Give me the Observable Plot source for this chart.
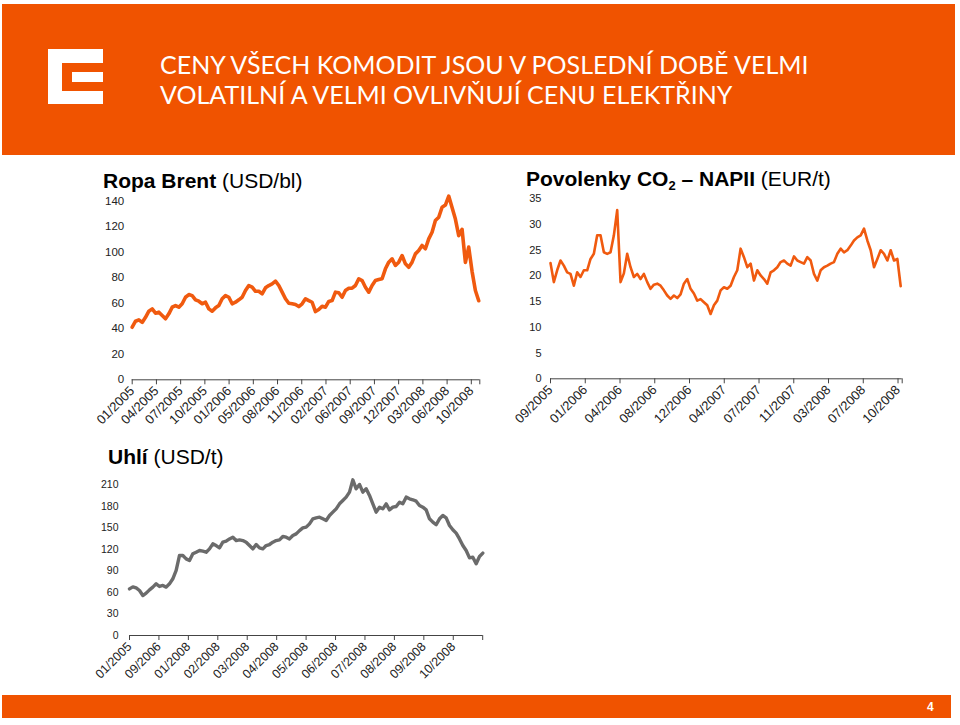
<!DOCTYPE html>
<html><head><meta charset="utf-8">
<script src="https://cdn.jsdelivr.net/npm/d3@7"></script>
<script src="https://cdn.jsdelivr.net/npm/@observablehq/plot@0.6"></script>
<style>
body{margin:0;background:#fff;}
#slide{position:relative;width:960px;height:725px;overflow:hidden;font-family:"Liberation Sans",Arial,sans-serif;background:#fff;}
.hdr{position:absolute;left:2px;top:4px;width:953px;height:151px;background:#f05300;}
.w{position:absolute;background:#fff;}
.title{position:absolute;left:160px;top:49px;color:#fff;font-family:Lato,"Open Sans",sans-serif;font-size:25px;line-height:30px;white-space:nowrap;}
.ct{position:absolute;font-size:21px;line-height:21px;color:#000;white-space:nowrap;}
.ct b{font-weight:bold;}
.ct sub{font-size:13px;vertical-align:-4px;line-height:0;}
.ftr{position:absolute;left:2px;top:695px;width:949px;height:23px;background:#f05300;}
.pg{position:absolute;left:927px;top:700px;color:#fff;font-size:12px;font-weight:bold;}
.plot{position:absolute;}
</style></head>
<body>
<div id="slide">
  <div class="hdr"></div>
  <div class="w" style="left:48px;top:49px;width:55px;height:14px"></div>
  <div class="w" style="left:48px;top:49px;width:14px;height:55px"></div>
  <div class="w" style="left:48px;top:91px;width:55px;height:13px"></div>
  <div class="w" style="left:72px;top:72px;width:31px;height:10px"></div>
  <div class="title">CENY VŠECH KOMODIT JSOU V POSLEDNÍ DOBĚ VELMI<br>VOLATILNÍ A VELMI OVLIVŇUJÍ CENU ELEKTŘINY</div>
  <div class="ct" style="left:103px;top:170px"><b>Ropa Brent</b> (USD/bl)</div>
  <div class="ct" style="left:526px;top:168px"><b>Povolenky CO<sub>2</sub> – NAPII</b> (EUR/t)</div>
  <div class="ct" style="left:108px;top:446px"><b>Uhlí</b> (USD/t)</div>
  <div id="brent" class="plot" style="left:80px;top:190px"></div>
  <div id="co2" class="plot" style="left:495px;top:188px"></div>
  <div id="coal" class="plot" style="left:75px;top:475px"></div>
  <div class="ftr"></div>
  <div class="pg">4</div>
</div>
<script>
// Ropa Brent (USD/bl) – values read at equal steps along the category axis
const brentLabels = ["01/2005","04/2005","07/2005","10/2005","01/2006","05/2006","08/2006","11/2006","02/2007","06/2007","09/2007","12/2007","03/2008","06/2008","10/2008"];
const brentValues = [41.2,45.9,47,45,49,53.8,55.6,52.2,53,50.4,47.8,51.7,56.9,58.2,56.9,59.6,64.7,66.8,66,62.7,61.6,59.6,60.8,55.6,53.8,56.4,58.2,63.5,66,64.7,59.6,60.8,62.7,64.7,70,73.9,72.6,69.4,69.4,67.4,72.1,73.9,75.2,77.3,73.9,68.7,63.5,60,59.6,59,57.4,59.6,63.5,
  62.1,60.8,53.5,55.1,57.7,56.9,61.4,62.1,68.7,68.2,64.7,70,71.8,71.8,73.9,79.2,77.8,72.6,68.7,73.9,77.8,78.6,79.2,87,92.2,94.8,89.6,92.2,97.4,90.9,88.2,92.2,98.7,101.3,105.3,102.7,110.5,115.7,124.8,127.4,135.3,137,144,135,126,113,118,92,104,85,70,62];
const brentPerTick = 7.27, brentEnd = 14.35, brentTicksY = [0,20,40,60,80,100,120,140];

// Povolenky CO2 – NAPII (EUR/t)
const co2Labels = ["09/2005","01/2006","04/2006","08/2006","12/2006","04/2007","07/2007","11/2007","03/2008","07/2008","10/2008"];
const co2Values = [22.5,18.8,21.1,23,22,20.7,20.4,18.1,20.7,19.8,21.1,21.1,23.3,24.3,27.9,27.9,24.6,24.3,24.6,27.9,32.8,18.8,20.5,24.3,21.7,19.8,20.4,19.4,20.4,18.8,17.5,18.3,18.5,18.1,17.2,16.2,15.55,16.2,15.7,16.4,18.5,19.4,17.5,16.6,15.2,15.5,14.9,14.3,12.6,14.3,15.2,17.2,17.8,
  17.5,18.1,19.8,21.1,25.3,23.65,21.7,22.4,19.1,21.1,20.1,19.4,18.5,20.7,21.1,21.7,22.7,23,22.4,22,23.8,23,22.7,22.4,23.65,23,20.4,19.1,21.1,21.7,22,22.4,22.7,24.3,25.3,24.6,25,25.9,26.9,27.5,27.9,29.2,26.9,25,21.7,23.3,25,24.3,23,25,23,23.3,18];
const co2PerTick = 10.42, co2End = 10.12, co2TicksY = [0,5,10,15,20,25,30,35];

// Uhlí (USD/t)
const coalLabels = ["01/2005","09/2006","01/2008","02/2008","03/2008","04/2008","05/2008","06/2008","07/2008","08/2008","09/2008","10/2008"];
const coalValues = [65,67.8,66.3,62.7,55.7,59,63.6,67.4,72,68.3,69.7,67.4,72,79,90.6,111.5,111.5,106.8,104.5,113.8,116.1,118.4,117.5,116.1,120.7,127.7,125.4,122.1,130,131.4,134.6,137,132.3,133.3,132.3,130,125.4,120.7,126.8,122.1,120.7,125.4,126.8,130,132.3,133.3,137.9,137,134.6,139.3,141.6,146.2,149.9,
  151,155.6,162.6,164,164.9,162.6,160.3,167.2,171.9,176.5,183.5,188.1,192.8,199.8,216.9,204.4,210.5,199.8,204.4,195.1,183.5,171.9,178.8,176.5,183.5,175.1,178.8,179.8,185.8,183.5,192.8,190.5,189.1,187.2,181.1,178.8,175.1,162.6,158,154.3,162.6,167.2,164,153.3,147.3,142.6,134.6,125.4,118.4,108.2,109.2,99.9,110.1,114.8];
const coalPerTick = 8.83, coalEnd = 12, coalTicksY = [0,30,60,90,120,150,180,210];

function chart(o) {
  const data = o.values.map((v, i) => ({x: i / o.perTick, y: v}));
  const ticks = o.labels.map((_, i) => i).concat([o.end]);
  const fmt = d => { const i = Math.round(d); return Math.abs(d - i) < 1e-9 && o.labels[i] ? o.labels[i] : ""; };
  return Plot.plot({
    width: o.width, height: o.height,
    marginLeft: o.ml, marginRight: o.mr, marginTop: o.mt, marginBottom: o.mb,
    style: {fontFamily: '"Liberation Sans", Arial, sans-serif', fontSize: o.fs + "px", color: "#222", background: "transparent", overflow: "visible"},
    x: {domain: [0, o.end]},
    y: {domain: [0, o.ticksY[o.ticksY.length - 1]]},
    marks: [
      Plot.axisY({ticks: o.ticksY, tickSize: 0, tickPadding: o.pad, label: null}),
      Plot.axisX({ticks, tickFormat: fmt, tickRotate: -45, tickSize: 5, tickPadding: 4, fontSize: o.fx, stroke: "#444", label: null}),
      Plot.ruleY([0], {stroke: "#444"}),
      Plot.lineY(data, {x: "x", y: "y", stroke: o.color, strokeWidth: o.sw, strokeLinejoin: "round", strokeLinecap: "round"})
    ]
  });
}

document.getElementById("brent").append(chart({values: brentValues, perTick: brentPerTick, labels: brentLabels, end: brentEnd, ticksY: brentTicksY,
  width: 410, height: 255, ml: 51.7, mr: 10.7, mt: 10.7, mb: 65.7, fs: 11.5, fx: 13, pad: 8, color: "#f05a0f", sw: 3.6}));
document.getElementById("co2").append(chart({values: co2Values, perTick: co2PerTick, labels: co2Labels, end: co2End, ticksY: co2TicksY,
  width: 420, height: 262, ml: 55, mr: 13.3, mt: 10.3, mb: 71.7, fs: 11, fx: 13, pad: 9, color: "#f05a0f", sw: 2.6}));
document.getElementById("coal").append(chart({values: coalValues, perTick: coalPerTick, labels: coalLabels, end: coalEnd, ticksY: coalTicksY,
  width: 420, height: 220, ml: 54, mr: 12.8, mt: 9.3, mb: 60, fs: 10.5, fx: 12.5, pad: 11, color: "#6b6b6b", sw: 3.4}));
</script>
</body></html>
